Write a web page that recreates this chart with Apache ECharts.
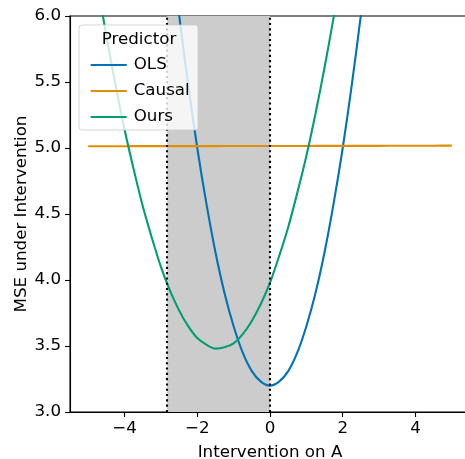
<!DOCTYPE html>
<html><head><meta charset="utf-8">
<script src="https://cdn.jsdelivr.net/npm/echarts@6/dist/echarts.min.js"></script>
<style>html,body{margin:0;padding:0;background:#fff}#c{width:465px;height:459px}</style>
</head><body><div id="c"></div>
<script>
const interventions = [-5,-4.75,-4.5,-4.25,-4,-3.75,-3.5,-3.25,-3,-2.75,-2.5,-2.25,-2,-1.75,-1.5,-1.25,-1,-0.75,-0.5,-0.25,0,0.25,0.5,0.75,1,1.25,1.5,1.75,2,2.25,2.5,2.75,3,3.25,3.5,3.75,4,4.25,4.5,4.75,5];
const olsMSE = [14.45,13.35,12.31,11.33,10.4,9.53,8.71,7.95,7.25,6.6,6.01,5.48,5.0,4.58,4.21,3.9,3.65,3.45,3.31,3.23,3.2,3.23,3.31,3.45,3.65,3.9,4.21,4.58,5.0,5.48,6.01,6.6,7.25,7.95,8.71,9.53,10.4,11.33,12.31,13.35,14.45];
const causalMSE = [5.013,5.013,5.013,5.013,5.013,5.014,5.014,5.014,5.014,5.014,5.014,5.014,5.014,5.014,5.014,5.015,5.015,5.015,5.015,5.015,5.015,5.015,5.015,5.015,5.015,5.016,5.016,5.016,5.016,5.016,5.016,5.016,5.016,5.017,5.017,5.017,5.017,5.017,5.017,5.018,5.018];
const oursMSE = [6.68,6.25,5.85,5.48,5.14,4.84,4.56,4.32,4.1,3.92,3.77,3.65,3.56,3.51,3.48,3.49,3.52,3.59,3.69,3.82,3.98,4.18,4.4,4.66,4.94,5.26,5.61,5.99,6.4,6.85,7.32,7.83,8.36,8.93,9.53,10.16,10.82,11.52,12.24,13.0,13.78];
const shadedRange = [-2.83, 0];
const xTicks = [-4,-2,0,2,4];
const seriesNames = ['OLS','Causal','Ours'];
const colors = ['#0173b2','#de8f05','#029e73'];

const FONT = 'DejaVu Sans';
const FS = 16.7;
const pairs = ys => interventions.map((x,i)=>[x, ys[i]]);
const fmtX = v => v < 0 ? '\u2212' + Math.abs(v) : String(v);

const chart = echarts.init(document.getElementById('c'), null, {renderer:'canvas'});
chart.setOption({
  animation:false,
  textStyle:{fontFamily:FONT},
  grid:{left:70, top:16, width:400, height:396, outerBoundsMode:'none', containLabel:false,
    show:true, borderColor:'#000', borderWidth:1.1, backgroundColor:'transparent'},
  xAxis:{type:'value', min:-5.5, max:5.5,
    name:'Intervention on A', nameLocation:'middle', nameGap:32, nameMoveOverlap:false,
    nameTextStyle:{fontSize:FS, color:'#000', fontFamily:FONT},
    axisLine:{show:true, onZero:false, lineStyle:{color:'#000', width:1.1}},
    axisTick:{show:true, length:5, lineStyle:{color:'#000', width:1.1}, customValues:xTicks},
    axisLabel:{fontSize:FS, color:'#000', margin:8, fontFamily:FONT, customValues:xTicks, formatter:fmtX},
    splitLine:{show:false}},
  yAxis:{type:'value', min:3, max:6, interval:0.5,
    name:'MSE under Intervention', nameLocation:'middle', nameGap:40, nameMoveOverlap:false,
    nameTextStyle:{fontSize:FS, color:'#000', fontFamily:FONT},
    axisLine:{show:true, onZero:false, lineStyle:{color:'#000', width:1.1}},
    axisTick:{show:true, length:5, lineStyle:{color:'#000', width:1.1}},
    axisLabel:{fontSize:FS, color:'#000', margin:9, fontFamily:FONT, formatter:v=>v.toFixed(1)},
    splitLine:{show:false}},
  graphic:[
    {type:'rect', z:50, shape:{x:79, y:25, width:119, height:105, r:3},
     style:{fill:'rgba(255,255,255,0.8)', stroke:'rgba(204,204,204,0.8)', lineWidth:1}},
    {type:'text', z:51, x:139, y:39.5, style:{text:'Predictor', fontFamily:FONT, fontSize:FS, fill:'#000', align:'center', verticalAlign:'middle'}}
  ],
  legend:{show:true, orient:'vertical', left:85.7, top:47, z:60, itemGap:0,
    itemWidth:36, itemHeight:2.2, icon:'rect',
    data:seriesNames.map((n,i)=>({name:n, itemStyle:{color:colors[i]}})),
    textStyle:{fontSize:FS, color:'#000', fontFamily:FONT, lineHeight:26, padding:[0,0,0,2]}},
  series:[
    {type:'line', name:'_shade', data:[], z:1, silent:true,
     markArea:{silent:true, itemStyle:{color:'#cccccc'}, data:[[{xAxis:shadedRange[0]},{xAxis:shadedRange[1]}]]},
     markLine:{silent:true, symbol:['none','none'], label:{show:false},
       lineStyle:{color:'#000', width:2.1, type:[2.1,3.2]},
       data:[{xAxis:shadedRange[0]},{xAxis:shadedRange[1]}]}},
    {type:'line', name:'OLS', data:pairs(olsMSE), showSymbol:false, smooth:0.3, z:3, lineStyle:{color:colors[0], width:2.1}, itemStyle:{color:colors[0]}},
    {type:'line', name:'Causal', data:pairs(causalMSE), showSymbol:false, z:3, lineStyle:{color:colors[1], width:2.1}, itemStyle:{color:colors[1]}},
    {type:'line', name:'Ours', data:pairs(oursMSE), showSymbol:false, smooth:0.3, z:3, lineStyle:{color:colors[2], width:2.1}, itemStyle:{color:colors[2]}}
  ]
});
</script></body></html>
